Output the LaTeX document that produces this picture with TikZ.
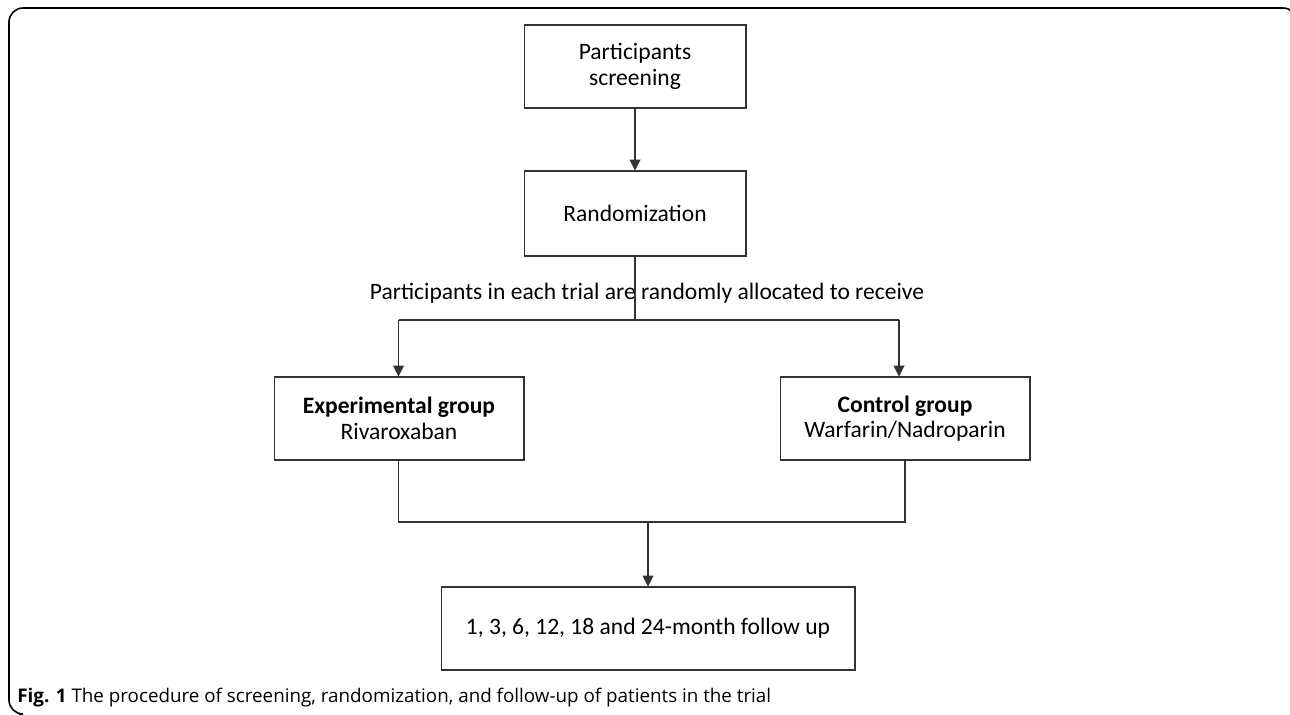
\documentclass[tikz,border=0pt]{standalone}
\usepackage{fontspec}
\setmainfont{Carlito}
\newfontfamily\captionfont{Open Sans}
\usetikzlibrary{arrows.meta}
\tikzstyle{procbox} = [draw=black!80, line width=0.6pt, align=center, inner sep=0pt, font=\fontsize{13.4}{14.6}\selectfont]
\tikzstyle{flowline} = [draw=black!80, line width=0.6pt]
\tikzstyle{flowarrow} = [flowline, -{Triangle[length=6.2pt,width=6.2pt]}]

\begin{document}
\begin{tikzpicture}[x=0.02cm, y=-0.02cm]
		\useasboundingbox (0,0) rectangle (1290,715);
		\clip (0,0) rectangle (1290,715);
		\draw [line width=0.9pt, rounded corners=8] (1297,40) -- (1297,8) -- (9,8) -- (9,714) -- (19,714);
		\node (screening) [procbox, minimum width=4.44cm, minimum height=1.66cm] at (635,66.5) {Participants\\screening};
		\node (random) [procbox, minimum width=4.44cm, minimum height=1.7cm] at (635,213.5) {Randomization};
		\node (allocate) [font=\fontsize{13.4}{15}\selectfont, inner sep=0pt] at (647,293.5) {Participants in each trial are randomly allocated to receive};
		\node (expgroup) [procbox, minimum width=5cm, minimum height=1.66cm] at (399,418.5) {\textbf{Experimental group}\\Rivaroxaban};
		\node (ctrlgroup) [procbox, minimum width=5cm, minimum height=1.66cm] at (905,418.5) {\textbf{Control group}\\Warfarin/Nadroparin};
		\node (followup) [procbox, minimum width=8.28cm, minimum height=1.66cm] at (648,628.5) {1, 3, 6, 12, 18 and 24-month follow up};
		\node (caption) [anchor=base west, inner sep=0pt, font=\captionfont\fontsize{10.7}{12}\selectfont] at (17,702) {\textbf{Fig. 1} The procedure of screening, randomization, and follow-up of patients in the trial};
		\coordinate (splitL) at (398.5,320);
		\coordinate (splitR) at (899,320);
		\coordinate (joinL) at (398.5,522);
		\coordinate (joinR) at (905,522);
		\draw [flowarrow] (screening) -- (random);
		\draw [flowline] (random.south) -- (random.south |- splitL);
		\draw [flowline] (splitL) -- (splitR);
		\draw [flowarrow] (splitL) -- (splitL |- expgroup.north);
		\draw [flowarrow] (splitR) -- (splitR |- ctrlgroup.north);
		\draw [flowline] (expgroup.south -| joinL) -- (joinL) -- (joinR) -- (ctrlgroup.south -| joinR);
		\draw [flowarrow] (followup.north |- joinL) -- (followup.north);
	\end{tikzpicture}
\end{document}
